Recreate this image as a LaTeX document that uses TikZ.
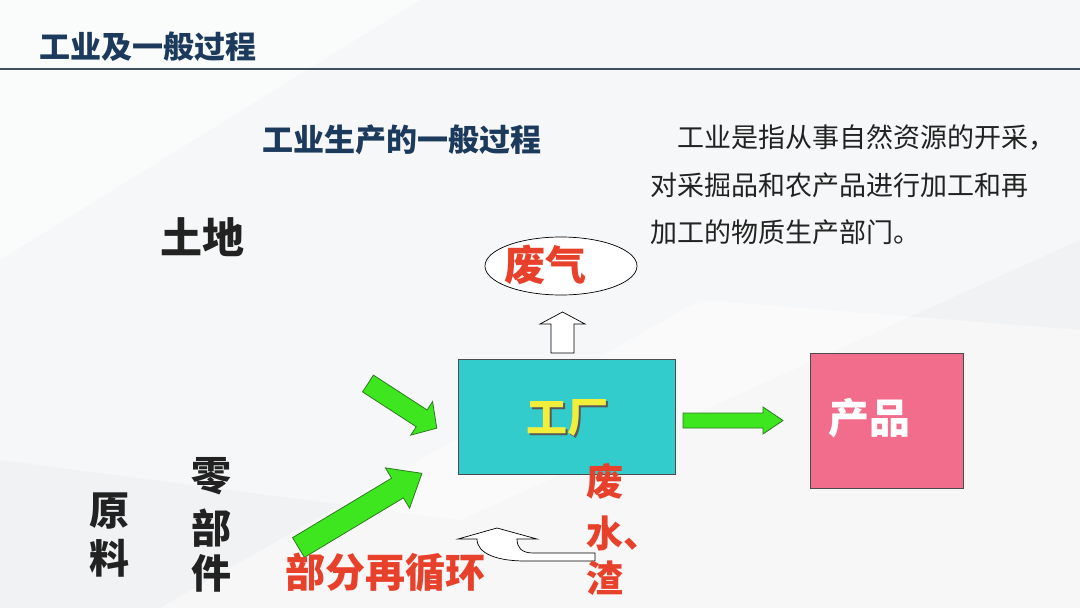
\documentclass[tikz,border=0pt]{standalone}
\usepackage{fontspec}
\setmainfont{Noto Sans CJK SC}
\newfontfamily\cjk{Noto Sans CJK SC}
\usetikzlibrary{shapes.geometric}
\definecolor{navy}{HTML}{1B3A5C}
\definecolor{rulecol}{HTML}{3F5061}
\definecolor{turq}{HTML}{33CCCC}
\definecolor{pinkbox}{HTML}{F26D8C}
\definecolor{agreen}{HTML}{3DE61F}
\definecolor{agreendark}{HTML}{2F7A20}
\definecolor{redtxt}{HTML}{E8412B}
\definecolor{yeltxt}{HTML}{F2EE3C}
\definecolor{bgbase}{HTML}{F6F7F8}
\definecolor{bgshade}{HTML}{EEEFF1}
\definecolor{darktxt}{HTML}{222222}
\newcommand{\fsz}[1]{\fontsize{#1}{#1}\selectfont}
\begin{document}
\begin{tikzpicture}[x=1pt,y=-1pt,
  txt/.style={inner sep=0pt,outer sep=0pt},
  boldtxt/.style={txt,font=\cjk\bfseries},
  garrow/.style={fill=agreen,draw=agreendark,line width=0.8pt,line join=miter},
  hollow/.style={fill=white,draw=black,line width=0.7pt,line join=miter}]
\useasboundingbox (0,0) rectangle (1080,608);
% background
\fill[bgbase] (0,0) rectangle (1080,608);
\fill[white,opacity=0.5] (0,0) -- (420,0) -- (0,260) -- cycle;
\fill[bgshade,opacity=0.5] (0,460) -- (460,520) -- (1080,240) -- (1080,608) -- (0,608) -- cycle;
\fill[white,opacity=0.45] (160,608) -- (700,300) -- (1080,330) -- (1080,608) -- cycle;
% header
\node[boldtxt,text=navy,font=\cjk\bfseries\fsz{31}] (title) at (148,47) {工业及一般过程};
\coordinate (ruleL) at (0,69);
\coordinate (ruleR) at (1080,69);
\draw[rulecol,line width=2pt] (ruleL) -- (ruleR);
% subtitle
\node[boldtxt,text=navy,font=\cjk\bfseries\fsz{31}] (subtitle) at (402,140) {工业生产的一般过程};
% paragraph
\node[txt,anchor=west,text=darktxt,font=\cjk\fsz{27}] (p1) at (677,137) {工业是指从事自然资源的开采，};
\node[txt,anchor=west,text=darktxt,font=\cjk\fsz{27}] (p2) at (650,185) {对采掘品和农产品进行加工和再};
\node[txt,anchor=west,text=darktxt,font=\cjk\fsz{27}] (p3) at (650,232) {加工的物质生产部门。};
% land
\node[boldtxt,text=darktxt,font=\cjk\bfseries\fsz{42}] (land) at (202,237) {土地};
% exhaust gas
\node[draw=black,fill=white,line width=0.7pt,ellipse,minimum width=152pt,minimum height=58pt,inner sep=0pt] (gas) at (561,266) {};
\node[boldtxt,text=redtxt,font=\cjk\bfseries\fsz{41}] (gastext) at (545,265) {废气};
% hollow up arrow
\draw[hollow] (551,353) -- (551,324) -- (540,324) -- (562.5,312) -- (585,324) -- (574,324) -- (574,353) -- cycle;
% factory
\node[draw=black!70,fill=turq,line width=0.8pt,minimum width=217pt,minimum height=115pt,inner sep=0pt] (factory) at (566.5,416.5) {};
\node[boldtxt,text=black!65,font=\cjk\bfseries\fsz{41}] (factoryshadow) at (569,420) {工厂};
\node[boldtxt,text=yeltxt,font=\cjk\bfseries\fsz{41}] (factorytext) at (567,418) {工厂};
% product
\node[draw=black!70,fill=pinkbox,line width=0.8pt,minimum width=153pt,minimum height=135pt,inner sep=0pt] (product) at (886.5,420.5) {};
\node[boldtxt,text=white,font=\cjk\bfseries\fsz{41}] (producttext) at (869,418) {产品};
% green arrows
\draw[garrow] (683,413) -- (763,413) -- (763,407) -- (783,420.5) -- (763,434) -- (763,428) -- (683,428) -- cycle;
\begin{scope}[shift={(368,383.5)},rotate=-33]
\draw[garrow] (0,-10) -- (64,-10) -- (64,-20) -- (82,0) -- (64,20) -- (64,10) -- (0,10) -- cycle;
\end{scope}
\begin{scope}[shift={(298.5,547.5)},rotate=31]
\draw[garrow] (0,-11.5) -- (115.5,-11.5) -- (115.5,-23.5) -- (144,0) -- (115.5,23.5) -- (115.5,11.5) -- (0,11.5) -- cycle;
\end{scope}
% curved recycle arrow
\draw[hollow] (595,553) -- (533,553) .. controls (521,553) and (517,547) .. (517,539)
  -- (537,539) -- (497,528) -- (458,539) -- (477,539)
  .. controls (477,554) and (498,561) .. (525,561) -- (595,561) -- cycle;
% labels
\node[boldtxt,text=redtxt,font=\cjk\bfseries\fsz{40}] (recycle) at (385,572) {部分再循环};
\node[boldtxt,anchor=west,text=redtxt,font=\cjk\bfseries\fsz{37}] (w1) at (586,481) {废};
\node[boldtxt,anchor=west,text=redtxt,font=\cjk\bfseries\fsz{37}] (w2) at (586,533) {水、};
\node[boldtxt,anchor=west,text=redtxt,font=\cjk\bfseries\fsz{37}] (w3) at (586,578) {渣};
\node[boldtxt,text=darktxt,font=\cjk\bfseries\fsz{40}] (raw1) at (109,511) {原};
\node[boldtxt,text=darktxt,font=\cjk\bfseries\fsz{40}] (raw2) at (109,558) {料};
\node[boldtxt,text=darktxt,font=\cjk\bfseries\fsz{40}] (part1) at (211,476) {零};
\node[boldtxt,text=darktxt,font=\cjk\bfseries\fsz{40}] (part2) at (211,528) {部};
\node[boldtxt,text=darktxt,font=\cjk\bfseries\fsz{40}] (part3) at (211,573) {件};
\end{tikzpicture}
\end{document}
